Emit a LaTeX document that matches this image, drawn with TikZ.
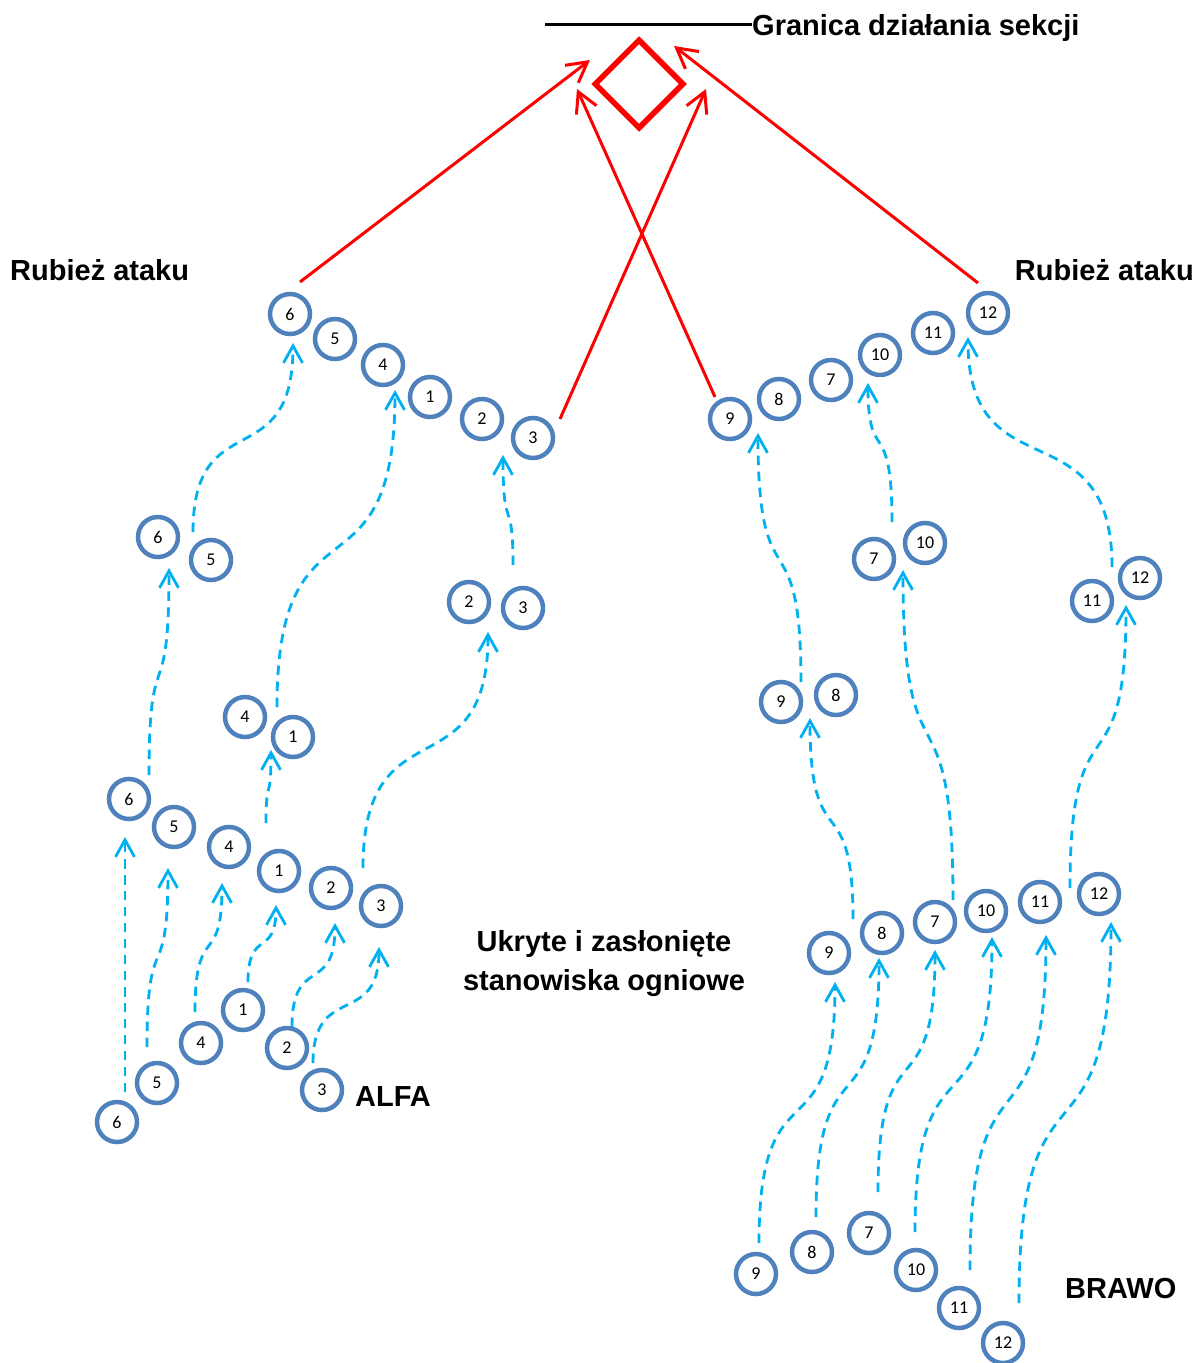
\documentclass[tikz,border=0pt]{standalone}
\usepackage{fontspec}
\setmainfont{Liberation Sans}
\newfontfamily\calibrifont{Carlito}
\usetikzlibrary{arrows.meta,shapes.geometric}
\definecolor{squad}{HTML}{4F81BD}
\definecolor{move}{HTML}{00B0F0}
\definecolor{assault}{HTML}{FF0000}
\tikzset{
  soldier/.style={circle, draw=squad, line width=4.5pt, minimum size=40pt,
    inner sep=0pt, font=\calibrifont\fontsize{18}{18}\selectfont},
  route/.style={draw=move, line width=2.8pt, dash pattern=on 9.5pt off 6.5pt,
    -{Straight Barb[length=17pt,width=19pt]}},
  attack/.style={draw=assault, line width=3pt,
    -{Straight Barb[length=20pt,width=22pt]}},
  caption/.style={font=\bfseries\fontsize{29}{39}\selectfont, inner sep=0pt}
}
\begin{document}
\begin{tikzpicture}[x=1pt, y=-1pt]
  \useasboundingbox (0,0) rectangle (1199,1363);
  % ALFA
  \foreach \n/\x/\y in {6/117/1122, 5/157/1083, 4/201/1043, 1/243/1010, 2/287/1048, 3/322/1090}
    \node[soldier] (aB\n) at (\x,\y) {\n};
  \foreach \n/\x/\y in {6/129/799, 5/174/827, 4/229/847, 1/279/871, 2/331/888, 3/381/906}
    \node[soldier] (aL\n) at (\x,\y) {\n};
  \foreach \n/\x/\y in {6/158/537, 5/211/560, 4/245/717, 1/293/737, 2/469/602, 3/523/608}
    \node[soldier] (aM\n) at (\x,\y) {\n};
  \foreach \n/\x/\y in {6/290/314, 5/335/339, 4/383/365, 1/430/397, 2/482/419, 3/533/438}
    \node[soldier] (aT\n) at (\x,\y) {\n};
  % BRAWO
  \foreach \n/\x/\y in {9/756/1274, 8/812/1252, 7/869/1233, 10/916/1270, 11/959/1308, 12/1003/1343}
    \node[soldier] (bB\n) at (\x,\y) {\n};
  \foreach \n/\x/\y in {9/829/953, 8/882/933, 7/935/922, 10/986/911, 11/1040/902, 12/1099/894}
    \node[soldier] (bL\n) at (\x,\y) {\n};
  \foreach \n/\x/\y in {9/781/702, 8/836/695, 7/874/559, 10/925/543, 11/1092/601, 12/1140/578}
    \node[soldier] (bM\n) at (\x,\y) {\n};
  \foreach \n/\x/\y in {9/730/419, 8/779/399, 7/831/380, 10/880/355, 11/933/333, 12/988/313}
    \node[soldier] (bT\n) at (\x,\y) {\n};

  % bounds: start / height of the jog / tip
  \foreach \sx/\sy/\ky/\tx/\ty [count=\i] in {
      125/1092/965/125/837, 147/1047/957/168/868, 195/1012/945/222/883,
      248/982/943/276/905, 292/1027/975/335/923, 313/1063/1005/379/947,
      149/775/675/169/568, 193/532/440/293/343, 266/823/790/271/750,
      277/707/548/395/390, 363/868/748/488/632, 513/565/515/503/455,
      759/1243/1110/835/982, 816/1217/1085/879/958, 878/1192/1068/935/950,
      915/1232/1085/992/937, 970/1270/1100/1046/935, 1019/1303/1112/1111/922,
      853/919/822/810/718, 953/900/735/903/570, 1070/888/745/1126/605,
      801/682/560/758/433, 892/522/440/868/383, 1112/567/450/968/337}{
    \coordinate (from\i) at (\sx,\sy);
    \coordinate (to\i) at (\tx,\ty);
    \draw[route] (from\i) .. controls (\sx,{\ky-0.2*(\sy-\ty)}) and (\tx,{\ky+0.2*(\sy-\ty)}) .. (to\i);
  }

  % objective
  \node[diamond, draw=assault, line width=5.5pt, minimum width=90pt,
    minimum height=90pt, inner sep=0pt] (target) at (639,84) {};
  \coordinate (edge) at (545,24);
  \node[caption, anchor=base west] (boundary) at (752,35) {Granica działania sekcji};
  \draw[line width=3pt] (edge) -- (edge -| boundary.west);

  \coordinate (start1) at (300,282);  \coordinate (aim1) at (590,60);
  \coordinate (start2) at (560,419);  \coordinate (aim2) at (706,89);
  \coordinate (start3) at (715,397);  \coordinate (aim3) at (577,89);
  \coordinate (start4) at (978,283);  \coordinate (aim4) at (674,46);
  \foreach \i in {1,...,4}
    \draw[attack] (start\i) -- (aim\i);

  \node[caption, anchor=base west] (lineA) at (10,280) {Rubież ataku};
  \node[caption, anchor=base east] (lineB) at (1194,280) {Rubież ataku};
  \node[caption, align=center] (cover) at (604,964) {Ukryte i zasłonięte\\stanowiska ogniowe};
  \node[caption, anchor=base west] (alfa) at (355,1106) {ALFA};
  \node[caption, anchor=base west] (brawo) at (1065,1298) {BRAWO};
\end{tikzpicture}
\end{document}
